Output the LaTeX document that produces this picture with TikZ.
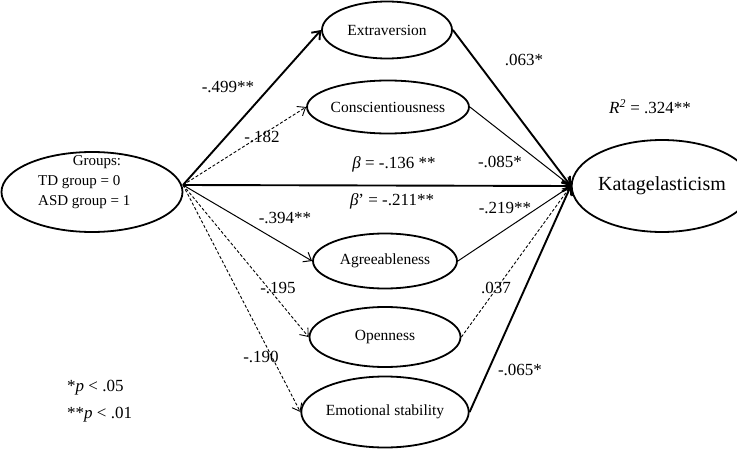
\documentclass[tikz,border=0pt]{standalone}
\usepackage{fontspec}
\setmainfont{Liberation Serif}
\usetikzlibrary{shapes.geometric,arrows.meta}
\begin{document}
\begin{tikzpicture}[x=1pt,y=-1pt,
  ell/.style={draw,ellipse,line width=1.8pt,inner sep=0pt,font=\fontsize{15.5}{18}\selectfont},
  lbl/.style={inner sep=0pt,font=\fontsize{17}{20}\selectfont},
  txt/.style={inner sep=0pt,font=\fontsize{15}{18}\selectfont},
  arr/.style={-{Straight Barb[length=7pt,width=11pt]}},
  thk/.style={line width=1.9pt},
  thn/.style={line width=1pt},
  dsh/.style={line width=0.9pt,dash pattern=on 3pt off 2pt}
]
\useasboundingbox (0,0) rectangle (737,452);
% ellipses
\node[ell,minimum width=181pt,minimum height=80pt] (groups) at (92,192) {};
\node[txt] (g1) at (97,162) {Groups:};
\node[txt,anchor=west] (g2) at (38,182) {TD group = 0};
\node[txt,anchor=west] (g3) at (38,202) {ASD group = 1};
\coordinate (gs) at (183,185);
\node[ell,minimum width=130pt,minimum height=57pt] (extra) at (387,30) {Extraversion};
\node[ell,minimum width=137pt,minimum height=53pt] (consc) at (388,107) {Conscientiousness};
\node[ell,minimum width=144pt,minimum height=55pt] (agree) at (385,261) {Agreeableness};
\node[ell,minimum width=151pt,minimum height=60pt] (open) at (385,337) {Openness};
\node[ell,minimum width=150pt,minimum height=71pt] (emo) at (385,412) {Emotional stability};
\node[ell,minimum width=145pt,minimum height=92pt,font=\fontsize{20}{24}\selectfont] (kata) at (662,186) {Katagelasticism};
% paths from groups
\draw[arr,thk] (gs) -- (extra.west);
\draw[arr,dsh] (gs) -- (consc.west);
\draw[arr,thk] (gs) -- (kata.west);
\draw[arr,thn] (gs) -- (agree.west);
\draw[arr,dsh] (gs) -- (open.west);
\draw[arr,dsh] (gs) -- (emo.west);
% paths to katagelasticism
\draw[arr,thk] (extra.east) -- (kata.west);
\draw[arr,thn] (consc.east) -- (kata.west);
\draw[arr,thn] (agree.east) -- (kata.west);
\draw[arr,dsh] (open.east) -- (kata.west);
\draw[arr,thk] (emo.east) -- (kata.west);
% labels
\node[lbl] (l1) at (228,87) {-.499**};
\node[lbl] (l2) at (262,137) {-.182};
\node[lbl] (l3) at (394,164) {\textit{β} = -.136 **};
\node[lbl] (l4) at (392,201) {\textit{β}’ = -.211**};
\node[lbl] (l5) at (285,218) {-.394**};
\node[lbl] (l6) at (278,288) {-.195};
\node[lbl] (l7) at (261,357) {-.190};
\node[lbl] (l8) at (524,60) {.063*};
\node[lbl] (l9) at (500,162) {-.085*};
\node[lbl] (l10) at (505,208) {-.219**};
\node[lbl] (l11) at (496,288) {.037};
\node[lbl] (l12) at (520,370) {-.065*};
\node[lbl] (r2) at (650,107) {\textit{R}\textsuperscript{\textit{2}} = .324**};
\node[lbl,anchor=west] (p1) at (67,388) {*\textit{p} < .05};
\node[lbl,anchor=west] (p2) at (67,415) {**\textit{p} < .01};
\end{tikzpicture}
\end{document}
